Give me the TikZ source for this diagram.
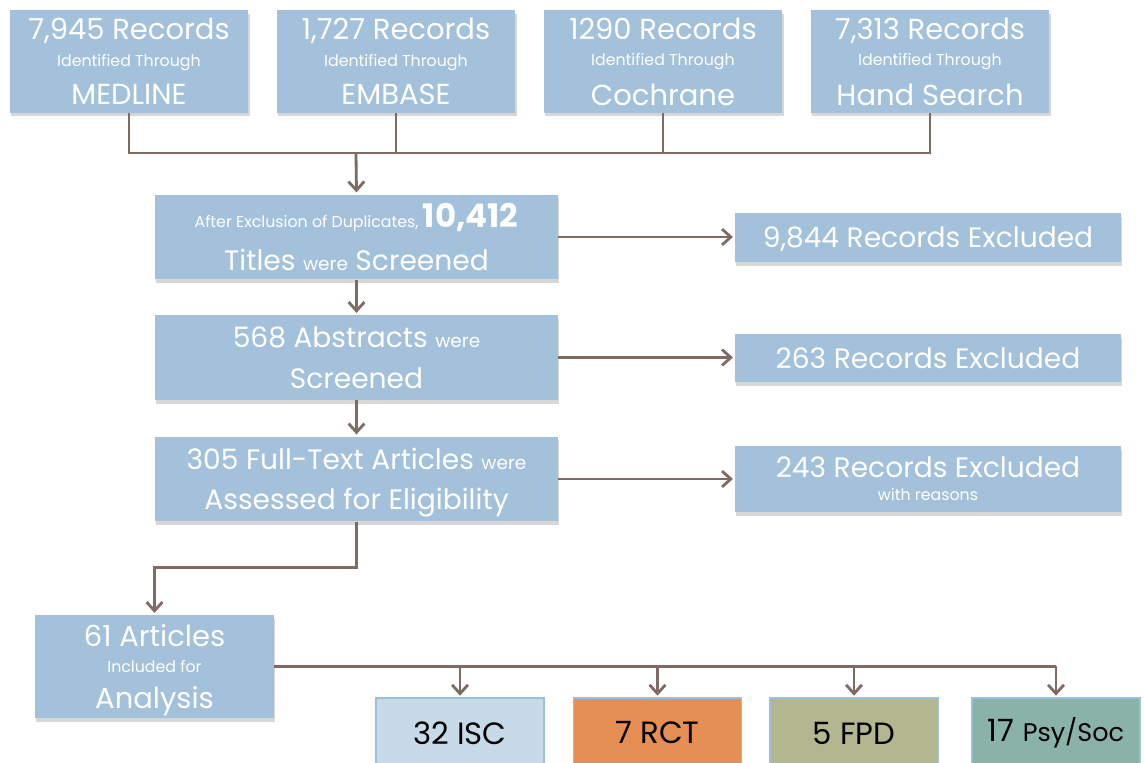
\documentclass[tikz,border=0pt]{standalone}
\usepackage{fontspec}
\setmainfont{Poppins}
\usetikzlibrary{arrows.meta,shadows}
\definecolor{boxblue}{HTML}{A3C1DA}
\definecolor{linkbrown}{HTML}{7E6C64}
\definecolor{iscblue}{HTML}{C6DAE8}
\definecolor{iscedge}{HTML}{9DBFD9}
\definecolor{rctorange}{HTML}{E58F55}
\definecolor{fpdolive}{HTML}{B3B78F}
\definecolor{psygreen}{HTML}{8AB3A8}
\newcommand{\srctxt}{\fontsize{16.5}{15}\selectfont}
\newcommand{\bigtxt}{\fontsize{16}{15}\selectfont}
\newcommand{\numtxt}{\fontsize{18.5}{15}\selectfont\bfseries}
\newcommand{\midtxt}{\fontsize{10.5}{15}\selectfont}
\newcommand{\tinytxt}{\fontsize{9}{15}\selectfont}
\begin{document}
\begin{tikzpicture}[x=0.02cm, y=-0.02cm,
  box/.style={fill=boxblue, text=white, align=center, inner sep=0pt, text depth=0pt,
    drop shadow={shadow xshift=0.6pt, shadow yshift=-2pt, opacity=.45, fill=gray!70}},
  srcbox/.style={box, minimum width=4.78cm, minimum height=2.06cm},
  stagebox/.style={box, minimum width=8.06cm, minimum height=1.7cm},
  exclbox/.style={box, minimum width=7.72cm},
  kindbox/.style={draw=iscedge, line width=.6pt, text=black, minimum width=3.36cm,
    minimum height=1.4cm, inner sep=0pt, font=\fontsize{17.5}{18}\selectfont},
  link/.style={draw=linkbrown, line width=1.6pt},
  arr/.style={link, -{Straight Barb[length=5pt, width=9pt, line width=1.6pt]}, shorten >=1pt}]
\useasboundingbox (0,0) rectangle (1144,763);
\clip (0,0) rectangle (1144,763);

% sources
\node[srcbox] (medline) at (129,61.5) {\srctxt 7,945 Records\\[3pt]\tinytxt Identified Through\\[7pt]\srctxt MEDLINE};
\node[srcbox] (embase) at (396,61.5) {\srctxt 1,727 Records\\[3pt]\tinytxt Identified Through\\[7pt]\srctxt EMBASE};
\node[srcbox] (cochrane) at (663,61.5) {\srctxt 1290 Records\\[3pt]\tinytxt Identified Through\\[7pt]\srctxt Cochrane};
\node[srcbox] (hand) at (930,61.5) {\srctxt 7,313 Records\\[3pt]\tinytxt Identified Through\\[7pt]\srctxt Hand Search};

% screening stages
\node[stagebox] (titles) at (356.5,237) {\tinytxt After Exclusion of Duplicates, {\numtxt 10,412}\\[9pt]\bigtxt Titles {\midtxt were} Screened};
\node[stagebox] (abstracts) at (356.5,357.5) {\bigtxt 568 Abstracts {\midtxt were}\\[10pt]\bigtxt Screened};
\node[stagebox] (fulltext) at (356.5,479) {\bigtxt 305 Full-Text Articles {\midtxt were}\\[9.5pt]\bigtxt Assessed for Eligibility};

% exclusions
\node[exclbox, minimum height=0.98cm] (excla) at (928,237.5) {\bigtxt 9,844 Records Excluded};
\node[exclbox, minimum height=0.96cm] (exclb) at (928,358) {\bigtxt 263 Records Excluded};
\node[exclbox, minimum height=1.32cm] (exclc) at (928,479) {\bigtxt 243 Records Excluded\\[1pt]\tinytxt with reasons};

% included
\node[srcbox] (included) at (154.5,666.5) {\srctxt 61 Articles\\[3pt]\tinytxt Included for\\[7pt]\srctxt Analysis};

% study kinds
\node[kindbox, fill=iscblue] (isc) at (460,733) {32 ISC};
\node[kindbox, fill=rctorange] (rct) at (657.5,733) {7 RCT};
\node[kindbox, fill=fpdolive] (fpd) at (854,733) {5 FPD};
\node[kindbox, fill=psygreen] (psy) at (1056,733) {17 {\fontsize{14.5}{15}\selectfont Psy/Soc}};

% connectors
\coordinate (join) at (356,153);
\draw[link] (medline.south) |- (join) -| (hand.south);
\draw[link] (embase.south) -- (embase.south |- join);
\draw[link] (cochrane.south) -- (cochrane.south |- join);
\draw[arr] (join) -- (titles.north);
\draw[arr] (titles.south) -- (abstracts.north);
\draw[arr] (abstracts.south) -- (fulltext.north);
\draw[arr] (titles.east) -- (titles.east -| excla.west);
\draw[arr] (abstracts.east) -- (abstracts.east -| exclb.west);
\draw[arr] (fulltext.east) -- (fulltext.east -| exclc.west);
\draw[arr] (fulltext.south) -- ++(0,46) -| (included.north);
\draw[link] (included.east) -- (psy.north |- included.east);
\foreach \k in {isc,rct,fpd,psy}
  \draw[arr] (\k.north |- included.east) -- (\k.north);
\end{tikzpicture}
\end{document}
